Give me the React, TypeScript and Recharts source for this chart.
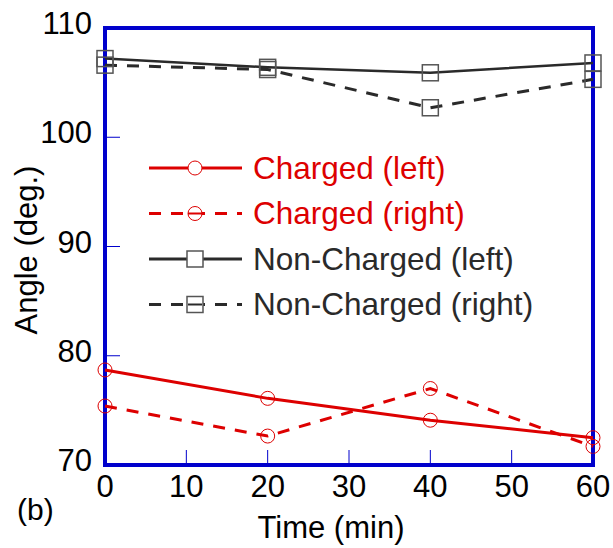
import React from "react";
import { LineChart, Line, XAxis, YAxis, ReferenceArea } from "recharts";

const times = [0, 20, 40, 60];
const chargedLeft = [78.7, 76.1, 74.1, 72.5];
const chargedRight = [75.4, 72.65, 77.0, 71.7];
const nonChargedLeft = [107.2, 106.4, 105.9, 106.8];
const nonChargedRight = [106.6, 106.2, 102.7, 105.3];

const xTicks = [0, 10, 20, 30, 40, 50, 60];
const yTicks = [70, 80, 90, 100, 110];

const seriesNames = ["Charged (left)", "Charged (right)", "Non-Charged (left)", "Non-Charged (right)"];

const RED = "#dd0000";
const DARK = "#2a2a2a";
const BLUE = "#0000cc";
const FONT = "'Liberation Sans', Arial, Helvetica, sans-serif";
const DASH = "12 10";

const data = times.map((t, i) => ({
  t,
  cl: chargedLeft[i],
  cr: chargedRight[i],
  nl: nonChargedLeft[i],
  nr: nonChargedRight[i],
}));

const CircleDot = (props: any) => {
  const { cx, cy } = props;
  if (cx == null || cy == null) return null;
  return <circle cx={cx} cy={cy} r={7} fill="none" stroke={RED} strokeWidth={1} />;
};

const SquareDot = (props: any) => {
  const { cx, cy } = props;
  if (cx == null || cy == null) return null;
  return <rect x={cx - 8} y={cy - 8} width={16} height={16} fill="none" stroke="#555" strokeWidth={1.5} />;
};

const XTick = (props: any) => {
  const { x, y, payload } = props;
  return (
    <g>
      <line x1={x} x2={x} y1={y} y2={y - 15} stroke={BLUE} strokeWidth={1} />
      <text x={x} y={y + 32} textAnchor="middle" fontFamily={FONT} fontSize={31} fill="#000">
        {payload.value}
      </text>
    </g>
  );
};

const YTick = (props: any) => {
  const { x, y, payload } = props;
  return (
    <g>
      <line x1={x} x2={x + 15} y1={y} y2={y} stroke={BLUE} strokeWidth={1} />
      <text x={x - 13} y={y + 6} textAnchor="end" fontFamily={FONT} fontSize={31} fill="#000">
        {payload.value}
      </text>
    </g>
  );
};

const legendItems = [
  { name: seriesNames[0], color: RED, dash: undefined, marker: "circle" },
  { name: seriesNames[1], color: RED, dash: DASH, marker: "circle" },
  { name: seriesNames[2], color: DARK, dash: undefined, marker: "square" },
  { name: seriesNames[3], color: DARK, dash: DASH, marker: "square" },
];

const LegendBox = () => (
  <svg width={440} height={190} style={{ position: "absolute", left: 140, top: 145, display: "block" }}>
    {legendItems.map((it, i) => {
      const cy = 23 + i * 45.5;
      return (
        <g key={it.name}>
          <line x1={9} x2={102} y1={cy} y2={cy} stroke={it.color} strokeWidth={3} strokeDasharray={it.dash} />
          {it.marker === "circle" ? (
            <circle cx={55} cy={cy} r={7} fill="#fff" stroke={RED} strokeWidth={1} />
          ) : (
            <rect x={47} y={cy - 8} width={16} height={16} fill="#fff" stroke="#555" strokeWidth={1.5} />
          )}
          {it.dash && <line x1={48} x2={62} y1={cy} y2={cy} stroke={it.color} strokeWidth={2} />}
          <text x={113} y={cy + 10.5} fontFamily={FONT} fontSize={31.5} fill={it.color}>
            {it.name}
          </text>
        </g>
      );
    })}
  </svg>
);

export default function App() {
  return (
    <div style={{ position: "absolute", left: 0, top: 0, width: 613, height: 548 }}>
      <LineChart width={613} height={548} data={data} margin={{ top: 28, right: 20, bottom: 0, left: 0 }}>
        <XAxis
          dataKey="t"
          type="number"
          domain={[0, 60]}
          ticks={xTicks}
          axisLine={false}
          tickLine={false}
          tickSize={0}
          tickMargin={0}
          height={83}
          tick={<XTick />}
          interval={0}
          label={{
            content: () => (
              <g>
                <text x={331} y={538} textAnchor="middle" fontFamily={FONT} fontSize={31} fill="#000">
                  Time (min)
                </text>
                <text x={17} y={520} fontFamily={FONT} fontSize={30} fill="#000">
                  (b)
                </text>
              </g>
            ),
          }}
        />
        <YAxis
          type="number"
          domain={[70, 110]}
          ticks={yTicks}
          axisLine={false}
          tickLine={false}
          tickSize={0}
          tickMargin={0}
          width={105}
          tick={<YTick />}
          interval={0}
          label={{
            content: () => (
              <text
                x={37}
                y={250}
                textAnchor="middle"
                transform="rotate(-90 37 250)"
                fontFamily={FONT}
                fontSize={31}
                fill="#000"
              >
                Angle (deg.)
              </text>
            ),
          }}
        />
        <ReferenceArea x1={0} x2={60} y1={70} y2={110} fill="none" stroke={BLUE} strokeWidth={4} ifOverflow="visible" />
        <Line dataKey="nl" name={seriesNames[2]} stroke={DARK} strokeWidth={2.5} dot={<SquareDot />} activeDot={false} isAnimationActive={false} />
        <Line dataKey="nr" name={seriesNames[3]} stroke={DARK} strokeWidth={3} strokeDasharray={DASH} dot={<SquareDot />} activeDot={false} isAnimationActive={false} />
        <Line dataKey="cl" name={seriesNames[0]} stroke={RED} strokeWidth={3} dot={<CircleDot />} activeDot={false} isAnimationActive={false} />
        <Line dataKey="cr" name={seriesNames[1]} stroke={RED} strokeWidth={3} strokeDasharray={DASH} dot={<CircleDot />} activeDot={false} isAnimationActive={false} />
      </LineChart>
      <LegendBox />
    </div>
  );
}
